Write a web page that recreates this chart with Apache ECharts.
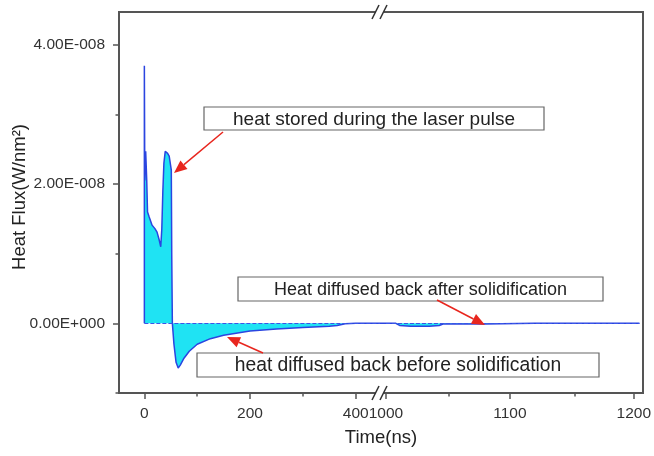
<!DOCTYPE html>
<html><head><meta charset="utf-8">
<script src="https://cdn.jsdelivr.net/npm/echarts@6/dist/echarts.min.js"></script>
<style>html,body{margin:0;padding:0;background:#fff}#c{width:654px;height:456px}</style>
</head><body><div id="c"></div>
<script>
// ---- data ----
const timeEarly = [0, 0, 0.8, 2.5, 3.5, 4.5, 6, 9, 14.6, 20, 24, 28, 31, 33, 35, 37, 39.5, 41, 44, 47, 49.6, 51, 51.8, 53, 56, 60, 64, 68, 75, 85, 100, 125, 150, 200, 250, 300, 350, 365, 380, 400, 446];
const fluxEarly = [0, 3.7e-8, 2.05e-8, 2.47e-8, 2.45e-8, 2.05e-8, 1.6e-8, 1.53e-8, 1.41e-8, 1.36e-8, 1.31e-8, 1.2e-8, 1.1e-8, 1.35e-8, 1.9e-8, 2.3e-8, 2.47e-8, 2.49e-8, 2.44e-8, 2.4e-8, 2.38e-8, 2.2e-8, 1.0e-8, 0, -0.3e-8, -0.56e-8, -0.64e-8, -0.6e-8, -0.5e-8, -0.4e-8, -0.3e-8, -0.22e-8, -0.17e-8, -0.11e-8, -0.08e-8, -0.06e-8, -0.04e-8, -0.03e-8, -0.005e-8, 0, 0];
const timeLate = [995.2, 1000, 1008, 1011, 1020, 1035, 1043, 1046, 1080, 1120, 1204.6];
const fluxLate = [0, 0, 0, -0.03e-8, -0.04e-8, -0.04e-8, -0.03e-8, -0.01e-8, -0.01e-8, 0, 0];
const xLabelsEarly = [0, 200, 400];
const xMinorEarly = [100, 300];
const xLabelsLate = [1000, 1100, 1200];
const xMinorLate = [1050, 1150];
const yLabels = [0, 2e-8, 4e-8];
const yMinor = [-1e-8, 1e-8, 3e-8];
const xRangeEarly = [-48, 446];
const xRangeLate = [995.2, 1204.6];
const yRange = [-1e-8, 4.47e-8];
const yTitle = 'Heat Flux(W/nm\u00B2)';
const xTitle = 'Time(ns)';
const notes = ['heat stored during the laser pulse', 'Heat diffused back after solidification', 'heat diffused back before solidification'];

// ---- helpers ----
function fmtE(v) {
  const s = v.toExponential(2).split('e');
  const e = parseInt(s[1], 10);
  return s[0] + 'E' + (e < 0 ? '-' : '+') + String(Math.abs(e)).padStart(3, '0');
}
const FONT = 'Liberation Sans, Arial, sans-serif';
const AX = '#555';
const G = {top: 12, height: 381};
const gEarly = {left: 119, top: G.top, width: 261, height: G.height};
const gLate = {left: 380, top: G.top, width: 263, height: G.height};
const grids = [gEarly, gLate, Object.assign({}, gEarly), Object.assign({}, gLate)];
const TL = {color: '#333', fontSize: 15.5, fontFamily: FONT};
const noLine = {show: false, onZero: false};
function xMajor(gi, range, labels) {
  return {gridIndex: gi, type: 'value', min: range[0], max: range[1], position: 'bottom',
    axisLine: noLine, splitLine: {show: false},
    axisTick: {show: true, length: 6, lineStyle: {color: AX, width: 1.5}, customValues: labels},
    axisLabel: Object.assign({show: true, customValues: labels, margin: 13, formatter: v => String(v)}, TL)};
}
function xMinorAx(gi, range, minor) {
  return {gridIndex: gi, type: 'value', min: range[0], max: range[1], position: 'bottom',
    axisLine: noLine, splitLine: {show: false},
    axisTick: {show: true, length: 3.5, lineStyle: {color: AX, width: 1.5}, customValues: minor},
    axisLabel: {show: false}};
}
function arrow(x1, y1, x2, y2) {
  const ang = Math.atan2(y2 - y1, x2 - x1), L = 13, W = 5.5;
  const bx = x2 - L * Math.cos(ang), by = y2 - L * Math.sin(ang);
  const px = -Math.sin(ang) * W, py = Math.cos(ang) * W;
  return [
    {type: 'line', z: 100, shape: {x1: x1, y1: y1, x2: bx, y2: by}, style: {stroke: '#e8261e', lineWidth: 1.5}},
    {type: 'polygon', z: 100, shape: {points: [[x2, y2], [bx + px, by + py], [bx - px, by - py]]}, style: {fill: '#e8261e'}}
  ];
}
function box(x, y, w, h, text, fs) {
  return [
    {type: 'rect', z: 100, shape: {x: x, y: y, width: w, height: h}, style: {fill: '#fff', stroke: '#666', lineWidth: 1.2}},
    {type: 'text', z: 101, x: x + w / 2, y: y + h / 2 + 1, style: {text: text, fill: '#222', font: fs + 'px ' + FONT, align: 'center', verticalAlign: 'middle', textAlign: 'center', textVerticalAlign: 'middle'}}
  ];
}
function slash(x, y) {
  return [
    {type: 'rect', z: 100, shape: {x: x - 4, y: y - 2.5, width: 8, height: 5}, style: {fill: '#fff'}},
    {type: 'line', z: 101, shape: {x1: x - 8, y1: y + 7, x2: x - 1, y2: y - 7}, style: {stroke: '#333', lineWidth: 1.5}},
    {type: 'line', z: 101, shape: {x1: x, y1: y + 7, x2: x + 7, y2: y - 7}, style: {stroke: '#333', lineWidth: 1.5}}
  ];
}

const lineStyle = {color: '#2b45e0', width: 1.5};
const areaStyle = {color: '#1fe3f3', opacity: 1};
const zeroLine = (a, b) => ({silent: true, symbol: 'none', label: {show: false},
  lineStyle: {color: '#3a55e8', type: 'dashed', width: 1},
  data: [[{coord: [a, 0]}, {coord: [b, 0]}]]});

const option = {
  animation: false,
  grid: grids,
  xAxis: [
    xMajor(0, xRangeEarly, xLabelsEarly),
    xMajor(1, xRangeLate, xLabelsLate),
    xMinorAx(2, xRangeEarly, xMinorEarly),
    xMinorAx(3, xRangeLate, xMinorLate)
  ],
  yAxis: [
    {gridIndex: 0, type: 'value', min: yRange[0], max: yRange[1], position: 'left',
      axisLine: noLine, splitLine: {show: false},
      axisTick: {show: true, length: 6, lineStyle: {color: AX, width: 1.5}, customValues: yLabels},
      axisLabel: Object.assign({customValues: yLabels, formatter: fmtE, margin: 14}, TL)},
    {gridIndex: 1, type: 'value', min: yRange[0], max: yRange[1], show: false, axisLine: noLine},
    {gridIndex: 2, type: 'value', min: yRange[0], max: yRange[1], position: 'left',
      axisLine: noLine, splitLine: {show: false},
      axisTick: {show: true, length: 3.5, lineStyle: {color: AX, width: 1.5}, customValues: yMinor},
      axisLabel: {show: false}},
    {gridIndex: 3, type: 'value', min: yRange[0], max: yRange[1], show: false, axisLine: noLine}
  ],
  series: [
    {type: 'line', xAxisIndex: 0, yAxisIndex: 0, data: timeEarly.map((t, i) => [t, fluxEarly[i]]),
      showSymbol: false, lineStyle: lineStyle, areaStyle: areaStyle, markLine: zeroLine(0, xRangeEarly[1])},
    {type: 'line', xAxisIndex: 1, yAxisIndex: 1, data: timeLate.map((t, i) => [t, fluxLate[i]]),
      showSymbol: false, lineStyle: lineStyle, areaStyle: areaStyle, markLine: zeroLine(1000, xRangeLate[1])}
  ],
  graphic: [].concat(
    [{type: 'rect', z: 99, shape: {x: 119, y: 12, width: 524, height: 381}, style: {fill: 'none', stroke: AX, lineWidth: 2}}],
    slash(380, 12), slash(380, 393),
    [{type: 'text', z: 100, x: 20, y: 197, rotation: Math.PI / 2,
      style: {text: yTitle, fill: '#222', font: '18.5px ' + FONT, align: 'center', verticalAlign: 'middle', textAlign: 'center', textVerticalAlign: 'middle'}},
     {type: 'text', z: 100, x: 381, y: 438,
      style: {text: xTitle, fill: '#222', font: '18.5px ' + FONT, align: 'center', verticalAlign: 'middle', textAlign: 'center', textVerticalAlign: 'middle'}}],
    box(204, 107, 340, 23, notes[0], 19),
    box(238, 277, 365, 24, notes[1], 18),
    box(197, 353, 402, 24, notes[2], 19.3),
    arrow(223, 132, 174, 173),
    arrow(437, 300, 485, 325),
    arrow(263, 353, 227, 337)
  )
};
echarts.init(document.getElementById('c')).setOption(option);
</script>
</body></html>
